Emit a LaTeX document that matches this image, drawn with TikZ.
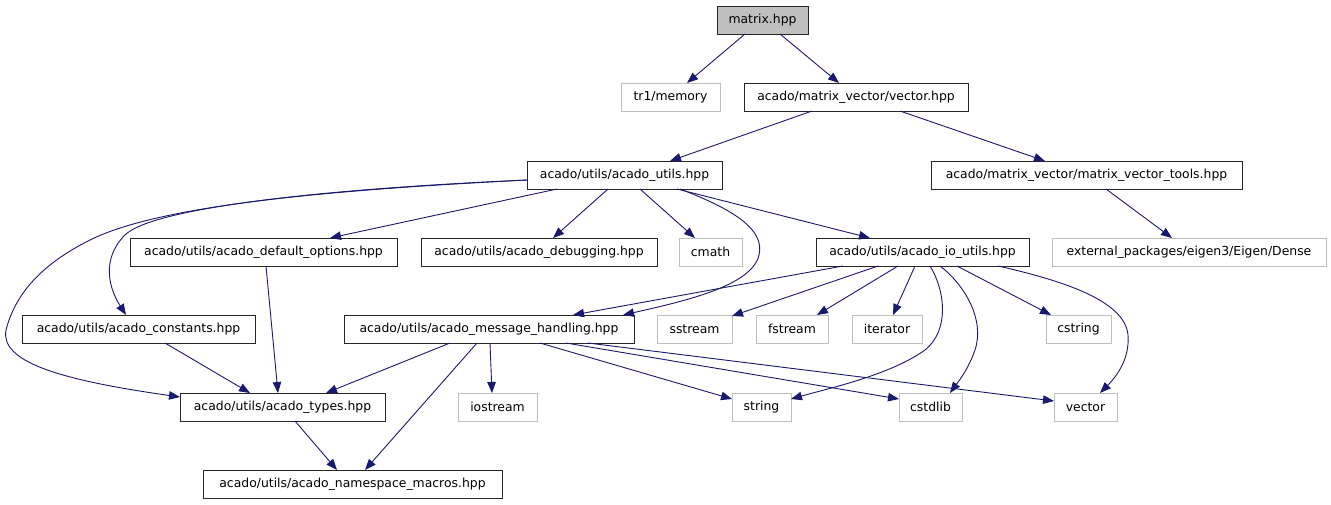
\documentclass[tikz,border=0pt]{standalone}
\usepackage{fontspec}
\setmainfont{DejaVu Sans}
\usetikzlibrary{arrows.meta,calc}
\definecolor{edgeblue}{HTML}{191970}
\definecolor{lgray}{HTML}{BFBFBF}
\definecolor{mgray}{HTML}{BFBFBF}
\newcommand\gnode[7]{\node[#1,minimum width={(#5-#3)*1pt},minimum height={(#6-#4)*1pt}] (#2) at ({(#3+#5)/2},{(#4+#6)/2}) {#7};}
\tikzset{
  x=1pt,y=-1pt,
  basebox/.style={rectangle,inner sep=0pt,outer sep=0pt,font=\fontsize{12.4}{14}\selectfont,text=black,line width=1pt},
  solidbox/.style={basebox,draw=black!85},
  graybox/.style={basebox,draw=lgray},
  rootbox/.style={basebox,draw=black!85,fill=mgray},
  dep/.style={draw=edgeblue,line width=0.9pt,-{Triangle[length=11pt,width=8.5pt]},fill=none},
}
\begin{document}
\begin{tikzpicture}
\fill[white] (0,0) rectangle (1331,504);
\useasboundingbox (0,0) rectangle (1331,504);
% nodes
\gnode{rootbox}{m}{717}{6}{808}{34}{matrix.hpp}
\gnode{graybox}{mem}{621}{83}{720}{111}{tr1/memory}
\gnode{solidbox}{vec}{744}{83}{968}{111}{acado/matrix\_vector/vector.hpp}
\gnode{solidbox}{utils}{527}{161}{722}{189}{acado/utils/acado\_utils.hpp}
\gnode{solidbox}{mvt}{931}{161}{1242}{189}{acado/matrix\_vector/matrix\_vector\_tools.hpp}
\gnode{graybox}{eig}{1052}{238}{1326}{266}{external\_packages/eigen3/Eigen/Dense}
\gnode{solidbox}{dopt}{130}{238}{397}{266}{acado/utils/acado\_default\_options.hpp}
\gnode{solidbox}{dbg}{421}{238}{657}{266}{acado/utils/acado\_debugging.hpp}
\gnode{graybox}{cmath}{679}{238}{742}{266}{cmath}
\gnode{solidbox}{io}{816}{238}{1029}{266}{acado/utils/acado\_io\_utils.hpp}
\gnode{solidbox}{cons}{22}{315}{255}{343}{acado/utils/acado\_constants.hpp}
\gnode{solidbox}{msg}{344}{315}{634}{343}{acado/utils/acado\_message\_handling.hpp}
\gnode{graybox}{sst}{657}{315}{732}{343}{sstream}
\gnode{graybox}{fst}{756}{315}{828}{343}{fstream}
\gnode{graybox}{itr}{852}{315}{922}{343}{iterator}
\gnode{graybox}{cstr}{1046}{315}{1111}{343}{cstring}
\gnode{solidbox}{types}{180}{393}{385}{421}{acado/utils/acado\_types.hpp}
\gnode{graybox}{ios}{458}{393}{537}{421}{iostream}
\gnode{graybox}{str}{732}{393}{791}{421}{string}
\gnode{graybox}{cstd}{899}{393}{962}{421}{cstdlib}
\gnode{graybox}{vecs}{1054}{393}{1117}{421}{vector}
\gnode{solidbox}{ns}{203}{470}{502}{498}{acado/utils/acado\_namespace\_macros.hpp}
% edges
\draw[dep] ($(m.south west)+(28,0)$) -- ($(mem.north west)+(66,0)$);
\draw[dep] ($(m.south west)+(63,0)$) -- ($(vec.north west)+(95,0)$);
\draw[dep] ($(vec.south west)+(68,0)$) -- ($(utils.north west)+(143,0)$);
\draw[dep] ($(vec.south west)+(156,0)$) -- ($(mvt.north west)+(114,0)$);
\draw[dep] ($(mvt.south west)+(175,0)$) -- ($(eig.north west)+(120,0)$);
\draw[dep] ($(utils.south west)+(30,0)$) -- ($(dopt.north west)+(200,0)$);
\draw[dep] ($(utils.south west)+(81,0)$) -- ($(dbg.north west)+(132,0)$);
\draw[dep] ($(utils.south west)+(113,0)$) -- ($(cmath.north west)+(16,0)$);
\draw[dep] ($(utils.south west)+(150,0)$) -- ($(io.north west)+(54,0)$);
\draw[dep] ($(utils.south west)+(153,0)$) .. controls (735,210) and (765,230) .. (759,255)
   .. controls (752,285) and (690,300) .. ($(msg.north west)+(279,0)$);
\draw[dep] ($(utils.north west)+(0,19)$) .. controls (300,190) and (150,210) .. (125,235)
   .. controls (100,260) and (110,290) .. ($(cons.north west)+(104,0)$);
\draw[dep] ($(utils.north west)+(0,19)$) .. controls (330,190) and (160,205) .. (90,240)
   .. controls (40,265) and (15,295) .. (6,330) .. controls (0,362) and (60,380) .. ($(types.north west)+(0,4)$);
\draw[dep] ($(dopt.south west)+(136,0)$) -- ($(types.north west)+(98,0)$);
\draw[dep] ($(cons.south west)+(143,0)$) -- ($(types.north west)+(70,0)$);
\draw[dep] ($(msg.south west)+(106,0)$) -- ($(types.north west)+(146,0)$);
\draw[dep] ($(msg.south west)+(133,0)$) -- ($(ns.north west)+(162,0)$);
\draw[dep] ($(types.south west)+(115,0)$) -- ($(ns.north west)+(134,0)$);
\draw[dep] ($(msg.south west)+(146,0)$) -- ($(ios.north west)+(34,0)$);
\draw[dep] ($(msg.south west)+(196,0)$) -- ($(str.north west)+(0,6)$);
\draw[dep] ($(msg.south west)+(222,0)$) -- ($(cstd.north west)+(0,6)$);
\draw[dep] ($(msg.south west)+(244,0)$) -- ($(vecs.north west)+(0,8)$);
\draw[dep] ($(io.south west)+(27,0)$) -- ($(msg.north west)+(229,0)$);
\draw[dep] ($(io.south west)+(62,0)$) -- ($(sst.north east)+(0,1)$);
\draw[dep] ($(io.south west)+(82,0)$) -- ($(fst.north west)+(61,0)$);
\draw[dep] ($(io.south west)+(99,0)$) -- ($(itr.north west)+(41,0)$);
\draw[dep] ($(io.south west)+(114,0)$) .. controls (945,290) and (950,330) .. (925,350)
   .. controls (890,375) and (830,388) .. ($(str.north east)+(0,6)$);
\draw[dep] ($(io.south west)+(124,0)$) .. controls (965,285) and (985,320) .. (975,350)
   .. controls (968,370) and (958,382) .. ($(cstd.north west)+(51,0)$);
\draw[dep] ($(io.south west)+(141,0)$) -- ($(cstr.north west)+(5,0)$);
\draw[dep] ($(io.south west)+(182,0)$) .. controls (1060,280) and (1125,300) .. (1128,335)
   .. controls (1130,360) and (1115,378) .. ($(vecs.north west)+(46,0)$);
\end{tikzpicture}
\end{document}
